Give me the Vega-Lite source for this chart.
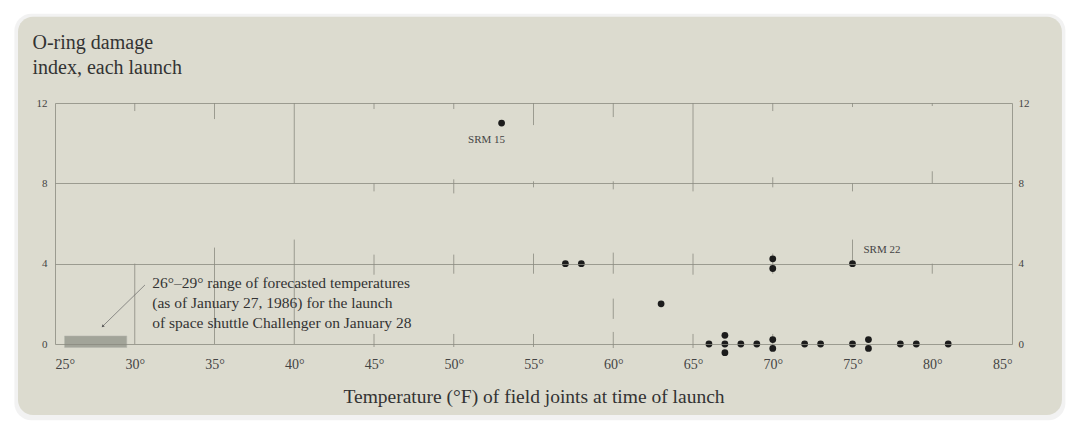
{
  "$schema": "https://vega.github.io/schema/vega-lite/v6.json",
  "width": 957,
  "height": 241,
  "autosize": {"type": "none"},
  "padding": {"left": 55, "top": 103, "right": 68, "bottom": 90},
  "background": "#ffffff",
  "config": {"view": {"stroke": null}, "font": "Liberation Serif"},
  "datasets": {
    "launches": [
      {"temp": 53, "damage": 11, "label": "SRM 15"},
      {"temp": 57, "damage": 4},
      {"temp": 58, "damage": 4},
      {"temp": 63, "damage": 2},
      {"temp": 66, "damage": 0},
      {"temp": 67, "damage": 0.43},
      {"temp": 67, "damage": 0},
      {"temp": 67, "damage": -0.43},
      {"temp": 68, "damage": 0},
      {"temp": 69, "damage": 0},
      {"temp": 70, "damage": 0.22},
      {"temp": 70, "damage": -0.22},
      {"temp": 70, "damage": 4.24},
      {"temp": 70, "damage": 3.76},
      {"temp": 72, "damage": 0},
      {"temp": 73, "damage": 0},
      {"temp": 75, "damage": 0},
      {"temp": 75, "damage": 4, "label": "SRM 22"},
      {"temp": 76, "damage": 0.22},
      {"temp": 76, "damage": -0.22},
      {"temp": 78, "damage": 0},
      {"temp": 79, "damage": 0},
      {"temp": 81, "damage": 0}
    ],
    "segments": [
      {"temp": 30, "damage": 11.6, "damage2": 12},
      {"temp": 35, "damage": 11.2, "damage2": 12},
      {"temp": 40, "damage": 8, "damage2": 12},
      {"temp": 45, "damage": 11.7, "damage2": 12},
      {"temp": 50, "damage": 11.7, "damage2": 12},
      {"temp": 55, "damage": 10.9, "damage2": 12},
      {"temp": 60, "damage": 11.3, "damage2": 12},
      {"temp": 65, "damage": 7.6, "damage2": 12},
      {"temp": 70, "damage": 11.6, "damage2": 12},
      {"temp": 75, "damage": 11.8, "damage2": 12},
      {"temp": 80, "damage": 11.85, "damage2": 12},
      {"temp": 45, "damage": 7.6, "damage2": 8},
      {"temp": 50, "damage": 7.5, "damage2": 8.2},
      {"temp": 55, "damage": 7.8, "damage2": 8.1},
      {"temp": 60, "damage": 7.7, "damage2": 8.1},
      {"temp": 70, "damage": 7.8, "damage2": 8.3},
      {"temp": 75, "damage": 7.6, "damage2": 8},
      {"temp": 80, "damage": 8, "damage2": 8.6},
      {"temp": 30, "damage": 0, "damage2": 4},
      {"temp": 35, "damage": 0, "damage2": 4.8},
      {"temp": 40, "damage": 0, "damage2": 5.2},
      {"temp": 45, "damage": 3.45, "damage2": 4.45},
      {"temp": 50, "damage": 3.5, "damage2": 4.45},
      {"temp": 55, "damage": 3.5, "damage2": 4.5},
      {"temp": 60, "damage": 3.5, "damage2": 4.55},
      {"temp": 65, "damage": 3.45, "damage2": 4.5},
      {"temp": 70, "damage": 3.5, "damage2": 4.5},
      {"temp": 75, "damage": 4, "damage2": 5.2},
      {"temp": 80, "damage": 3.5, "damage2": 4},
      {"temp": 45, "damage": -0.15, "damage2": 0.5},
      {"temp": 50, "damage": -0.15, "damage2": 0.5},
      {"temp": 55, "damage": -0.15, "damage2": 0.5},
      {"temp": 60, "damage": -0.2, "damage2": 0.6},
      {"temp": 60, "damage": 1.25, "damage2": 2.26},
      {"temp": 65, "damage": -0.2, "damage2": 0.5},
      {"temp": 70, "damage": -0.2, "damage2": 0.5}
    ],
    "forecast": [{"temp": 25.6, "temp2": 29.5, "damage": 0.4, "damage2": -0.17}],
    "arrow": [{"temp": 30.64, "damage": 2.94, "temp2": 28.01, "damage2": 0.9}],
    "note": [{"temp": 31.1, "damage": 3.04, "text": "26°–29° range of forecasted temperatures\n(as of January 27, 1986) for the launch\nof space shuttle Challenger on January 28"}]
  },
  "layer": [
    {
      "data": {"values": [{}]},
      "mark": {"type": "rect", "cornerRadius": 17, "fill": "#000000", "opacity": 0.05},
      "encoding": {
        "x": {"datum": 22.45, "type": "quantitative", "scale": {"domain": [25, 85], "nice": false, "zero": false}},
        "x2": {"datum": 88.35},
        "y": {"datum": 16.45, "type": "quantitative", "scale": {"domain": [0, 12], "nice": false, "zero": false}, "axis": null},
        "y2": {"datum": -3.8}
      }
    },
    {
      "data": {"values": [{}]},
      "mark": {"type": "rect", "cornerRadius": 15, "fill": "#dcdbcf"},
      "encoding": {
        "x": {"datum": 22.68, "type": "quantitative"},
        "x2": {"datum": 88.13},
        "y": {"datum": 16.3, "type": "quantitative", "axis": null},
        "y2": {"datum": -3.54}
      }
    },
    {
      "data": {"name": "segments"},
      "mark": {"type": "rule", "color": "#8a8a80", "strokeWidth": 0.8},
      "encoding": {
        "x": {"field": "temp", "type": "quantitative"},
        "y": {
          "field": "damage",
          "type": "quantitative",
          "axis": {
            "orient": "right",
            "values": [0, 4, 8, 12],
            "grid": false,
            "domain": true,
            "domainColor": "#8a8a80",
            "domainWidth": 0.8,
            "ticks": false,
            "labelPadding": 6,
            "labelFontSize": 11,
            "labelColor": "#444444",
            "labelFont": "Liberation Serif",
            "title": null,
            "zindex": 1
          }
        },
        "y2": {"field": "damage2"}
      }
    },
    {
      "data": {"name": "forecast"},
      "mark": {"type": "rect", "fill": "#a2a499", "stroke": "#b4b6ac", "strokeWidth": 0.5},
      "encoding": {
        "x": {"field": "temp", "type": "quantitative"},
        "x2": {"field": "temp2"},
        "y": {"field": "damage", "type": "quantitative", "axis": null},
        "y2": {"field": "damage2"}
      }
    },
    {
      "data": {"name": "arrow"},
      "mark": {"type": "rule", "color": "#666666", "strokeWidth": 0.7},
      "encoding": {
        "x": {"field": "temp", "type": "quantitative"},
        "x2": {"field": "temp2"},
        "y": {"field": "damage", "type": "quantitative", "axis": null},
        "y2": {"field": "damage2"}
      }
    },
    {
      "data": {"name": "arrow"},
      "mark": {"type": "point", "shape": "triangle", "angle": 225, "size": 10, "filled": true, "color": "#555555", "opacity": 1},
      "encoding": {
        "x": {"field": "temp2", "type": "quantitative"},
        "y": {"field": "damage2", "type": "quantitative", "axis": null}
      }
    },
    {
      "data": {"name": "note"},
      "mark": {"type": "text", "align": "left", "baseline": "middle", "lineBreak": "\n", "lineHeight": 20, "fontSize": 15.5, "font": "Liberation Serif", "color": "#333333"},
      "encoding": {
        "x": {"field": "temp", "type": "quantitative"},
        "y": {"field": "damage", "type": "quantitative", "axis": null},
        "text": {"field": "text"}
      }
    },
    {
      "data": {"name": "launches"},
      "mark": {"type": "circle", "size": 46, "color": "#1c1c1c", "opacity": 1},
      "encoding": {
        "x": {
          "field": "temp",
          "type": "quantitative",
          "axis": {
            "values": [25, 30, 35, 40, 45, 50, 55, 60, 65, 70, 75, 80, 85],
            "labelExpr": "datum.label + '°'",
            "title": "Temperature (°F) of field joints at time of launch",
            "grid": false,
            "domain": false,
            "ticks": false,
            "tickSize": 0,
            "labelPadding": 13,
            "labelFontSize": 14,
            "labelColor": "#444444",
            "labelFont": "Liberation Serif",
            "titleFont": "Liberation Serif",
            "titleFontSize": 19.5,
            "titleFontWeight": "normal",
            "titleColor": "#333333",
            "titlePadding": 16,
            "zindex": 1
          }
        },
        "y": {
          "field": "damage",
          "type": "quantitative",
          "axis": {
            "orient": "left",
            "values": [0, 4, 8, 12],
            "grid": true,
            "gridColor": "#8a8a80",
            "gridWidth": 0.8,
            "domain": true,
            "domainColor": "#8a8a80",
            "domainWidth": 0.8,
            "ticks": false,
            "labelPadding": 8,
            "labelFontSize": 11,
            "labelColor": "#444444",
            "labelFont": "Liberation Serif",
            "title": ["O-ring damage", "index, each launch"],
            "titleAngle": 0,
            "titleAlign": "left",
            "titleBaseline": "alphabetic",
            "titleX": -23,
            "titleY": -55,
            "titleFont": "Liberation Serif",
            "titleFontSize": 20,
            "titleFontWeight": "normal",
            "titleColor": "#333333",
            "titleLineHeight": 25,
            "zindex": 1
          }
        }
      }
    },
    {
      "data": {"name": "launches"},
      "transform": [{"filter": "datum.label == 'SRM 15'"}],
      "mark": {"type": "text", "dx": -15, "dy": 17, "align": "center", "baseline": "middle", "fontSize": 11, "font": "Liberation Serif", "color": "#444444"},
      "encoding": {
        "x": {"field": "temp", "type": "quantitative"},
        "y": {"field": "damage", "type": "quantitative", "axis": null},
        "text": {"field": "label"}
      }
    },
    {
      "data": {"name": "launches"},
      "transform": [{"filter": "datum.label == 'SRM 22'"}],
      "mark": {"type": "text", "dx": 11, "dy": -14, "align": "left", "baseline": "middle", "fontSize": 11, "font": "Liberation Serif", "color": "#444444"},
      "encoding": {
        "x": {"field": "temp", "type": "quantitative"},
        "y": {"field": "damage", "type": "quantitative", "axis": null},
        "text": {"field": "label"}
      }
    }
  ],
  "resolve": {"axis": {"y": "independent"}}
}
